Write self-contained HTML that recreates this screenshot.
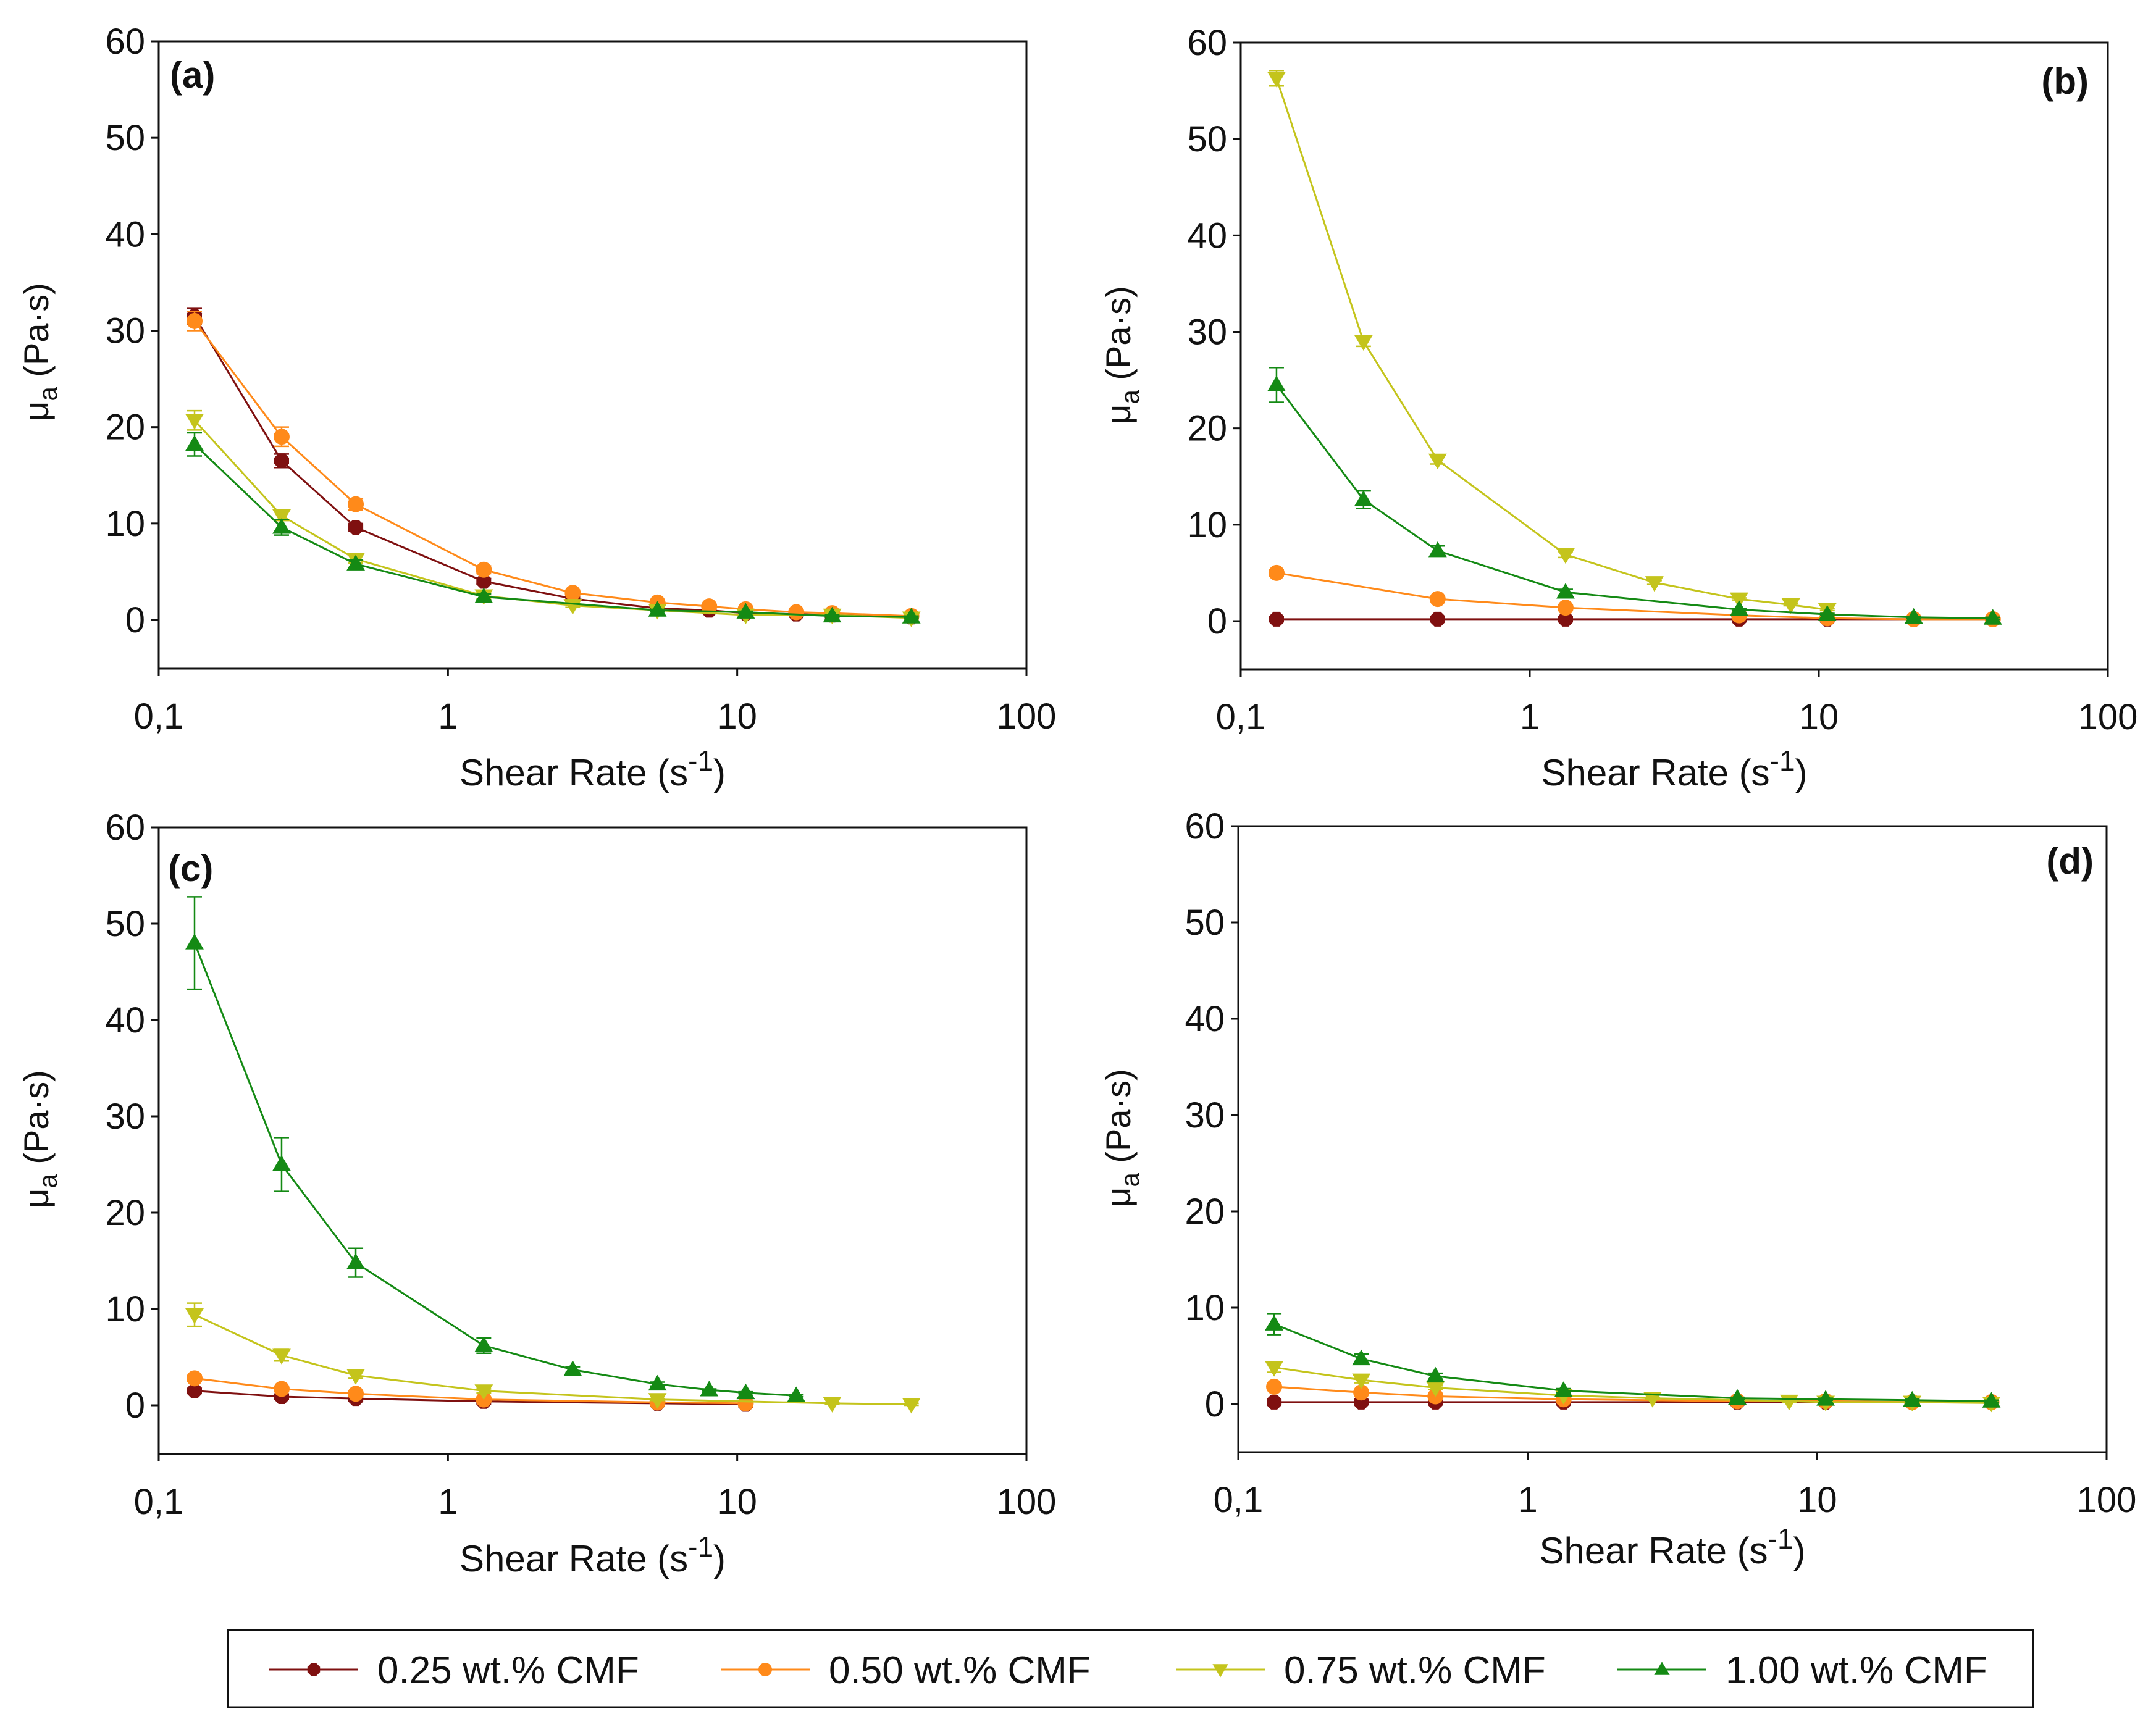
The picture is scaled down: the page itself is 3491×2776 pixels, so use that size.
<!DOCTYPE html>
<html><head><meta charset="utf-8"><style>
html,body{margin:0;padding:0;background:#fff;}
svg{display:block;font-family:"Liberation Sans",sans-serif;}
</style></head><body>
<svg id="fig" width="3491" height="2776" viewBox="0 0 3491 2776" xmlns="http://www.w3.org/2000/svg"></svg>
<script>
const xTicks=[0.1,1,10,100];
const xTickLabels=["0,1","1","10","100"];
const yTicks=[0,10,20,30,40,50,60];
const seriesNames=["0.25 wt.% CMF","0.50 wt.% CMF","0.75 wt.% CMF","1.00 wt.% CMF"];
const colors=["#7f1010","#ff8a1a","#c4c41c","#148a14"];
const markers=["hex","circle","down","up"];
// panel a
const aX0=[0.133,0.266,0.48,1.33,2.7,5.3,8,10.7,16,21.3,40];
const aY0=[31.5,16.5,9.6,4.0,2.2,1.2,1.0,0.7,0.6,0.5,0.3];
const aE0=[0.8,0.7,0.4,0.3,0.2,0.1,0.1,0.1,0.1,0.1,0.1];
const aX1=[0.133,0.266,0.48,1.33,2.7,5.3,8,10.7,16,21.3,40];
const aY1=[31,19,12,5.2,2.8,1.8,1.4,1.1,0.8,0.7,0.4];
const aE1=[1.0,1.0,0.6,0.4,0.3,0.2,0.1,0.1,0.1,0.1,0.1];
const aX2=[0.133,0.266,0.48,1.33,2.7,5.3,10.7,21.3,40];
const aY2=[20.7,10.8,6.3,2.5,1.5,1.0,0.5,0.5,0.2];
const aE2=[1.0,0.5,0.4,0.3,0.2,0.1,0.1,0.1,0.1];
const aX3=[0.133,0.266,0.48,1.33,5.3,10.7,21.3,40];
const aY3=[18.2,9.6,5.8,2.4,1.0,0.8,0.4,0.3];
const aE3=[1.2,0.8,0.4,0.3,0.1,0.1,0.1,0.1];
// panel b
const bX0=[0.133,0.48,1.33,5.3,10.7,21.3,40];
const bY0=[0.2,0.2,0.2,0.2,0.2,0.2,0.2];
const bE0=[0.1,0.1,0.1,0.1,0.1,0.1,0.1];
const bX1=[0.133,0.48,1.33,5.3,10.7,21.3,40];
const bY1=[5,2.3,1.4,0.6,0.3,0.2,0.2];
const bE1=[0.3,0.2,0.1,0.1,0.1,0.1,0.1];
const bX2=[0.133,0.266,0.48,1.33,2.7,5.3,8,10.7];
const bY2=[56.3,29,16.7,6.9,4,2.3,1.7,1.2];
const bE2=[0.8,0.5,0.4,0.3,0.2,0.1,0.1,0.1];
const bX3=[0.133,0.266,0.48,1.33,5.3,10.7,21.3,40];
const bY3=[24.5,12.6,7.3,3,1.2,0.7,0.4,0.3];
const bE3=[1.8,0.9,0.5,0.3,0.1,0.1,0.1,0.1];
// panel c
const cX0=[0.133,0.266,0.48,1.33,5.3,10.7];
const cY0=[1.5,0.9,0.7,0.4,0.2,0.1];
const cE0=[0.2,0.1,0.1,0.1,0.1,0.1];
const cX1=[0.133,0.266,0.48,1.33,5.3,10.7];
const cY1=[2.8,1.7,1.2,0.6,0.3,0.2];
const cE1=[0.3,0.2,0.1,0.1,0.1,0.1];
const cX2=[0.133,0.266,0.48,1.33,5.3,21.3,40];
const cY2=[9.4,5.2,3.1,1.5,0.6,0.2,0.1];
const cE2=[1.2,0.6,0.3,0.2,0.1,0.1,0.1];
const cX3=[0.133,0.266,0.48,1.33,2.7,5.3,8,10.7,16];
const cY3=[48,25,14.8,6.2,3.7,2.2,1.6,1.3,1.0];
const cE3=[4.8,2.8,1.5,0.8,0.3,0.2,0.1,0.1,0.1];
// panel d
const dX0=[0.133,0.266,0.48,1.33,5.3,10.7,21.3,40];
const dY0=[0.2,0.2,0.2,0.2,0.2,0.2,0.2,0.2];
const dE0=[0.1,0.1,0.1,0.1,0.1,0.1,0.1,0.1];
const dX1=[0.133,0.266,0.48,1.33,5.3,10.7,21.3,40];
const dY1=[1.8,1.2,0.8,0.5,0.3,0.3,0.2,0.2];
const dE1=[0.3,0.2,0.1,0.1,0.1,0.1,0.1,0.1];
const dX2=[0.133,0.266,0.48,1.33,2.7,8,10.7,21.3,40];
const dY2=[3.8,2.5,1.7,0.9,0.6,0.3,0.2,0.2,0.1];
const dE2=[0.5,0.3,0.2,0.1,0.1,0.1,0.1,0.1,0.1];
const dX3=[0.133,0.266,0.48,1.33,5.3,10.7,21.3,40];
const dY3=[8.3,4.7,2.9,1.4,0.6,0.5,0.4,0.3];
const dE3=[1.1,0.5,0.3,0.2,0.1,0.1,0.1,0.1];

const NS="http://www.w3.org/2000/svg";
const svg=document.getElementById('fig');
function mk(tag,attrs,parent,text){const e=document.createElementNS(NS,tag);for(const k in attrs)e.setAttribute(k,attrs[k]);if(text!==undefined)e.textContent=text;(parent||svg).appendChild(e);return e;}

function marker(g,type,cx,cy,color,r){
  let m;
  if(type==="circle"){m=mk('circle',{cx:cx,cy:cy,r:r,fill:color},g);}
  else if(type==="hex"){let p=[];for(let i=0;i<8;i++){const a=Math.PI/8+i*Math.PI/4;p.push((cx+r*Math.cos(a)).toFixed(1)+","+(cy+r*Math.sin(a)).toFixed(1));}m=mk('polygon',{points:p.join(" "),fill:color},g);}
  else if(type==="down"){m=mk('polygon',{points:`${cx-r*1.15},${cy-r*0.8} ${cx+r*1.15},${cy-r*0.8} ${cx},${cy+r*1.15}`,fill:color},g);}
  else {m=mk('polygon',{points:`${cx-r*1.15},${cy+r*0.8} ${cx+r*1.15},${cy+r*0.8} ${cx},${cy-r*1.15}`,fill:color},g);}
  return m;
}

const panels=[
 {id:"a",L:257,R:1662,T:67,B:1083,y60:67,y0:1004,label:"(a)",lx:275,ly:142,la:"start",data:[[aX0,aY0,aE0],[aX1,aY1,aE1],[aX2,aY2,aE2],[aX3,aY3,aE3]],xt:1252,yt:{x:60,y:570}},
 {id:"b",L:2009,R:3413,T:69,B:1084,y60:69,y0:1006,label:"(b)",lx:3382,ly:152,la:"end",data:[[bX0,bY0,bE0],[bX1,bY1,bE1],[bX2,bY2,bE2],[bX3,bY3,bE3]],xt:1252,yt:{x:1812,y:575}},
 {id:"c",L:257,R:1662,T:1340,B:2355,y60:1340,y0:2276,label:"(c)",lx:272,ly:1427,la:"start",data:[[cX0,cY0,cE0],[cX1,cY1,cE1],[cX2,cY2,cE2],[cX3,cY3,cE3]],xt:2525,yt:{x:60,y:1845}},
 {id:"d",L:2005,R:3411,T:1338,B:2352,y60:1338,y0:2274,label:"(d)",lx:3390,ly:1415,la:"end",data:[[dX0,dY0,dE0],[dX1,dY1,dE1],[dX2,dY2,dE2],[dX3,dY3,dE3]],xt:2512,yt:{x:1812,y:1843}}
];

panels.forEach(p=>{
  const g=mk('g',{});
  
  
  const xs=v=>p.L+(Math.log10(v)+1)/3*(p.R-p.L);
  const ys=v=>p.y0-(v/60)*(p.y0-p.y60);
  const frame=mk('rect',{x:p.L,y:p.T,width:p.R-p.L,height:p.B-p.T,fill:"none",stroke:"#111","stroke-width":3},g);
  
  
  yTicks.forEach(t=>{
    const y=ys(t);
    mk('line',{x1:p.L-12,x2:p.L,y1:y,y2:y,stroke:"#111","stroke-width":3},g);
    const tl=mk('text',{x:p.L-22,y:y+20,"font-size":58,"text-anchor":"end",fill:"#111"},g,String(t));
    
    
  });
  xTicks.forEach((t,i)=>{
    const x=xs(t);
    mk('line',{x1:x,x2:x,y1:p.B,y2:p.B+12,stroke:"#111","stroke-width":3},g);
    const tl=mk('text',{x:x,y:p.B+97,"font-size":58,"text-anchor":"middle",fill:"#111"},g,xTickLabels[i]);
    
    
  });
  const cx=(p.L+p.R)/2;
  const xt=mk('text',{x:cx,y:p.xt+20,"font-size":60,"text-anchor":"middle",fill:"#111"},g);
  
  
  xt.innerHTML='Shear Rate (s<tspan dy="-24" font-size="46">-1</tspan><tspan dy="24">)</tspan>';
  const yt=mk('text',{x:0,y:0,"font-size":56,"text-anchor":"middle",fill:"#111",transform:`translate(${p.yt.x+18},${p.yt.y}) rotate(-90)`},g);
  
  
  yt.innerHTML='μ<tspan dy="14" font-size="42">a</tspan><tspan dy="-14"> (Pa·s)</tspan>';
  const lab=mk('text',{x:p.lx,y:p.ly,"font-size":60,"font-weight":"bold","text-anchor":p.la,fill:"#111"},g,p.label);
  
  
  p.data.forEach((s,si)=>{
    const [X,Y,E]=s;const col=colors[si];
    const sg=mk('g',{},g);
    
    
    const pts=X.map((x,i)=>xs(x).toFixed(1)+","+ys(Y[i]).toFixed(1)).join(" ");
    const ln=mk('polyline',{points:pts,fill:"none",stroke:col,"stroke-width":3},sg);
    
    
    X.forEach((x,i)=>{
      const px=xs(x),py=ys(Y[i]),e1=ys(Y[i]+E[i]),e2=ys(Y[i]-E[i]);
      const eb=mk('path',{d:`M${px},${e1}V${e2}M${px-12},${e1}H${px+12}M${px-12},${e2}H${px+12}`,stroke:col,"stroke-width":2.5,fill:"none"},sg);
      
      
      const m=marker(sg,markers[si],px,py,col,13);
      
      
    });
  });
});

// legend
const lg=mk('g',{});


mk('rect',{x:369,y:2640,width:2923,height:125,fill:"#fff",stroke:"#111","stroke-width":3},lg);
const legX=[436,1167,1904,2619];
seriesNames.forEach((n,i)=>{
  const eg=mk('g',{},lg);
  
  
  const x=legX[i],y=2704;
  mk('line',{x1:x,x2:x+144,y1:y,y2:y,stroke:colors[i],"stroke-width":3},eg);
  marker(eg,markers[i],x+72,y,colors[i],11);
  mk('text',{x:x+175,y:y+22,"font-size":62,fill:"#111"},eg,n);
});
</script>
</body></html>
